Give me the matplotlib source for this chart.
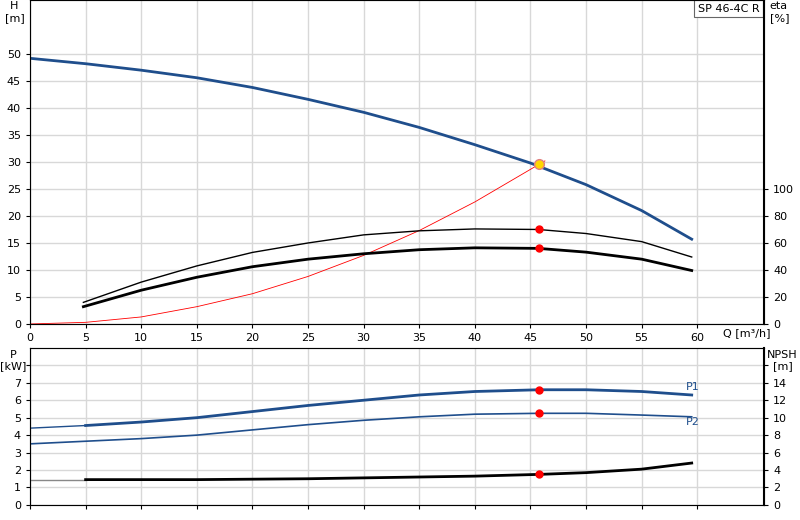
import matplotlib.pyplot as plt

# pump curve data (Q in m3/h)
q_h = [0, 5, 10, 15, 20, 25, 30, 35, 40, 45, 50, 55, 59.5]
h = [49.2, 48.2, 47.0, 45.6, 43.8, 41.6, 39.2, 36.4, 33.2, 29.8, 25.8, 21.0, 15.7]

q_eta = [4.8, 10, 15, 20, 25, 30, 35, 40, 45.7, 50, 55, 59.5]
eta_thin = [16, 31, 43, 53, 60, 66, 69, 70.4, 70, 67, 61, 49.6]
eta_thick = [12.8, 25, 34.6, 42.4, 48, 52, 55, 56.4, 56, 53.2, 48, 39.6]

q_sys = [0, 5, 10, 15, 20, 25, 30, 35, 40, 45.8, 46.3]
h_sys = [0, 0.3, 1.3, 3.2, 5.6, 8.8, 12.7, 17.3, 22.6, 29.6, 30.2]

q_p = [0, 5, 10, 15, 20, 25, 30, 35, 40, 45.8, 50, 55, 59.5]
p1 = [4.4, 4.55, 4.75, 5.0, 5.35, 5.7, 6.0, 6.3, 6.5, 6.6, 6.6, 6.5, 6.3]
p2 = [3.5, 3.65, 3.8, 4.0, 4.3, 4.6, 4.85, 5.05, 5.2, 5.25, 5.25, 5.15, 5.05]
npsh = [2.9, 2.9, 2.9, 2.9, 2.95, 3.0, 3.1, 3.2, 3.3, 3.5, 3.7, 4.1, 4.8]

q_duty = 45.8
h_duty = 29.6

blue = '#1f4e8c'
fig = plt.figure(figsize=(8, 5.2), dpi=100)
ax = fig.add_axes([0.0375, 0.377, 0.9175, 0.623])
ax2 = ax.twinx()
bx = fig.add_axes([0.0375, 0.029, 0.9175, 0.302])
bx2 = bx.twinx()

for a in (ax, bx):
    a.set_xlim(0, 66)
    a.set_xticks(range(0, 65, 5))
    a.grid(True, color='#d8d8d8', lw=1)
    a.tick_params(labelsize=8, length=3)
    for s in a.spines.values():
        s.set_color('#888888')

ax.set_ylim(0, 60)
ax.set_yticks(range(0, 55, 5))
ax2.set_ylim(0, 240)
ax2.set_yticks(range(0, 101, 20))
ax2.tick_params(labelsize=8, length=3)
ax2.spines['right'].set_color('black')
ax2.spines['right'].set_linewidth(1.5)

ax.plot(q_h, h, color=blue, lw=2)
ax.plot(q_sys, h_sys, color='red', lw=0.6)
ax2.plot(q_eta, eta_thin, color='black', lw=1)
ax2.plot(q_eta, eta_thick, color='black', lw=2)
ax2.plot([q_duty, q_duty], [eta_thin[8], eta_thick[8]], 'o', color='red', ms=5, ls='none')
ax.plot(q_duty, h_duty, 'o', mfc='#ffd700', mec='#e08080', ms=7)
ax.text(62.3, -0.8, 'Q [m³/h]', fontsize=8, va='top')
fig.text(0.018, 0.998, 'H\n[m]', fontsize=8, va='top', ha='center')
fig.text(0.962, 0.998, 'eta\n[%]', fontsize=8, va='top', ha='left')
ax.text(65.6, 59.3, 'SP 46-4C R', fontsize=8, ha='right', va='top',
        bbox=dict(fc='white', ec='#666666', lw=0.8, pad=2.5))

bx.set_ylim(0, 9)
bx.set_yticks(range(0, 9))
bx.set_yticklabels([str(v) for v in range(0, 8)] + [''])
bx.set_xticklabels([])
bx2.set_ylim(0, 18)
bx2.set_yticks(range(0, 17, 2))
bx2.set_yticklabels([str(v) for v in range(0, 15, 2)] + [''])
bx2.tick_params(labelsize=8, length=3)
bx2.spines['right'].set_color('black')
bx2.spines['right'].set_linewidth(1.5)

bx.plot(q_p[:2], p1[:2], color=blue, lw=1)
bx.plot(q_p[1:], p1[1:], color=blue, lw=2)
bx.plot(q_p, p2, color=blue, lw=1.2)
bx2.plot(q_p[:2], npsh[:2], color='#888888', lw=1)
bx2.plot(q_p[1:], npsh[1:], color='black', lw=2)
bx.plot([q_duty, q_duty], [p1[9], p2[9]], 'o', color='red', ms=5, ls='none')
bx2.plot(q_duty, npsh[9], 'o', color='red', ms=5)
bx.text(59, 6.6, 'P1', color=blue, fontsize=8)
bx.text(59, 4.6, 'P2', color=blue, fontsize=8)
fig.text(0.016, 0.327, 'P\n[kW]', fontsize=8, va='top', ha='center')
fig.text(0.978, 0.327, 'NPSH\n[m]', fontsize=8, va='top', ha='center')

fig.savefig('out.png')
